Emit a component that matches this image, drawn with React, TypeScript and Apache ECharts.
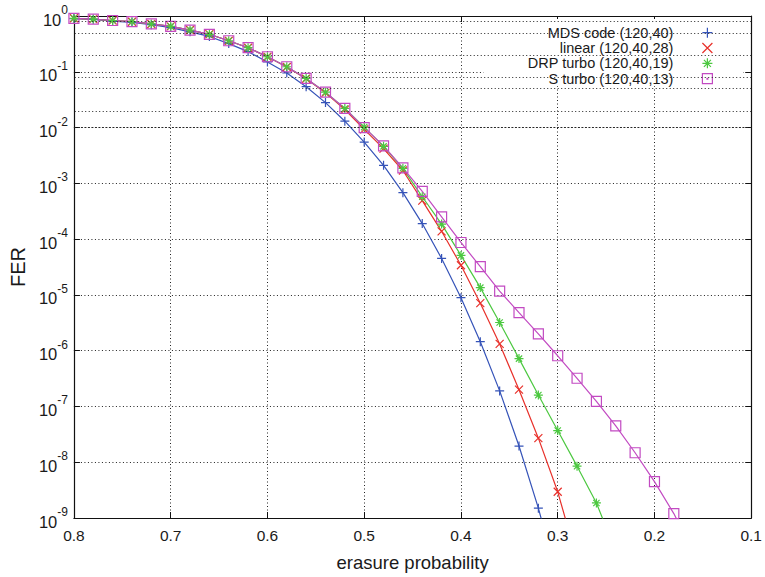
import React, { useEffect, useRef } from 'react';
import * as echarts from 'echarts';

const FONT = '"Liberation Sans", Arial, Helvetica, sans-serif';

const erasureProb = [
  0.80, 0.78, 0.76, 0.74, 0.72, 0.70, 0.68, 0.66, 0.64, 0.62,
  0.60, 0.58, 0.56, 0.54, 0.52, 0.50, 0.48, 0.46, 0.44, 0.42,
  0.40, 0.38, 0.36, 0.34, 0.32, 0.30, 0.28, 0.26, 0.24, 0.22,
  0.20, 0.18, 0.16,
];

const mdsFER = [
  0.90, 0.87, 0.81, 0.77, 0.70, 0.62, 0.52, 0.43, 0.32, 0.23,
  0.15, 0.095, 0.054, 0.028, 0.013, 5.5e-3, 2.1e-3, 6.8e-4, 1.9e-4, 4.5e-5,
  8.9e-6, 1.45e-6, 1.9e-7, 1.95e-8, 1.5e-9, 8e-11,
];

const linearFER = [
  0.91, 0.88, 0.83, 0.79, 0.72, 0.65, 0.56, 0.47, 0.36, 0.27,
  0.186, 0.122, 0.075, 0.042, 0.021, 9.3e-3, 4.2e-3, 1.7e-3, 4.9e-4, 1.38e-4,
  3.4e-5, 7.1e-6, 1.32e-6, 2.0e-7, 2.7e-8, 2.95e-9, 1.8e-10,
];

const drpTurboFER = [
  0.91, 0.88, 0.83, 0.79, 0.72, 0.65, 0.56, 0.47, 0.36, 0.27,
  0.186, 0.123, 0.076, 0.043, 0.022, 0.0102, 4.6e-3, 1.86e-3, 5.75e-4, 1.86e-4,
  5.1e-5, 1.35e-5, 3.2e-6, 7.2e-7, 1.6e-7, 3.7e-8, 8.5e-9, 1.86e-9, 2.5e-10,
];

const sTurboFER = [
  0.91, 0.88, 0.83, 0.79, 0.72, 0.65, 0.56, 0.47, 0.36, 0.27,
  0.186, 0.123, 0.076, 0.043, 0.022, 0.010, 4.7e-3, 1.9e-3, 7.2e-4, 2.5e-4,
  8.7e-5, 3.2e-5, 1.17e-5, 4.8e-6, 2.0e-6, 8.1e-7, 3.2e-7, 1.23e-7, 4.5e-8, 1.48e-8,
  4.5e-9, 1.2e-9, 2.5e-10,
];

const seriesNames = [
  'MDS code (120,40)',
  'linear (120,40,28)',
  'DRP turbo (120,40,19)',
  'S turbo (120,40,13)',
];
const seriesValues = [mdsFER, linearFER, drpTurboFER, sTurboFER];
const seriesColors = ['#3553b8', '#e8302a', '#4cc840', '#c24ac2'];

const xTicks = [0.8, 0.7, 0.6, 0.5, 0.4, 0.3, 0.2, 0.1];
const yDecadeExponents = [0, -1, -2, -3, -4, -5, -6, -7, -8, -9];
const minorGridFactors = [8, 5, 2];

const symbolPaths = [
  'path://M5,0L5,10M0,5L10,5',
  'path://M0,0L10,10M10,0L0,10',
  'path://M5,0L5,10M0,5L10,5M1.5,1.5L8.5,8.5M8.5,1.5L1.5,8.5',
  'path://M0,0L10,0L10,10L0,10Z',
];
const symbolSizes = [9, 8, 9, 10];
const legendIcons = [
  symbolPaths[0],
  symbolPaths[1],
  symbolPaths[2],
  'path://M0,0L10,0L10,10L0,10ZM4.6,4.6L5.4,4.6L5.4,5.4L4.6,5.4Z',
];

export default function App() {
  const ref = useRef<HTMLDivElement>(null);

  useEffect(() => {
    if (!ref.current) return;
    const chart = echarts.init(ref.current, null, { renderer: 'svg' });

    const minorLines: number[] = [];
    yDecadeExponents.slice(0, -1).forEach((e) => {
      minorGridFactors.forEach((f) => minorLines.push(f * Math.pow(10, e - 1)));
    });

    const gridDot = { color: '#222', type: [1, 2.5] as any, width: 1 };

    const xCommon = {
      type: 'value' as const,
      min: 0.1,
      max: 0.8,
      interval: 0.1,
      inverse: true,
      gridIndex: 0,
    };
    const yCommon = {
      type: 'log' as const,
      logBase: 10,
      min: Math.pow(10, yDecadeExponents[yDecadeExponents.length - 1]),
      max: Math.pow(10, yDecadeExponents[0]),
      splitNumber: 9,
      gridIndex: 0,
    };

    const option: any = {
      animation: false,
      backgroundColor: '#ffffff',
      textStyle: { fontFamily: FONT },
      grid: { left: 73, right: 13, top: 16, bottom: 59, containLabel: false },
      xAxis: [
        {
          ...xCommon,
          position: 'bottom',
          name: 'erasure probability',
          nameLocation: 'middle',
          nameGap: 35,
          nameTextStyle: { fontSize: 18.5, color: '#1a1a1a', fontFamily: FONT },
          axisLine: { show: true, onZero: false, lineStyle: { color: '#111', width: 1.2 } },
          axisTick: { show: true, inside: true, length: 6, lineStyle: { color: '#111', width: 1 } },
          axisLabel: {
            show: true,
            margin: 9,
            fontSize: 15.5,
            color: '#1a1a1a',
            fontFamily: FONT,
            formatter: (v: number) => {
              const t = xTicks.find((x) => Math.abs(x - v) < 1e-6);
              return t !== undefined ? t.toFixed(1) : '';
            },
          },
          splitLine: { show: true, lineStyle: gridDot },
        },
        {
          ...xCommon,
          position: 'top',
          axisLine: { show: true, onZero: false, lineStyle: { color: '#111', width: 1.2 } },
          axisTick: { show: true, inside: true, length: 6, lineStyle: { color: '#111', width: 1 } },
          axisLabel: { show: false },
          splitLine: { show: false },
        },
      ],
      yAxis: [
        {
          ...yCommon,
          position: 'left',
          name: 'FER',
          nameLocation: 'middle',
          nameGap: 35,
          nameRotate: 90,
          nameTextStyle: { fontSize: 20, color: '#1a1a1a', fontFamily: FONT },
          axisLine: { show: true, onZero: false, lineStyle: { color: '#111', width: 1.2 } },
          axisTick: { show: true, inside: true, length: 6, lineStyle: { color: '#111', width: 1 } },
          axisLabel: {
            show: true,
            margin: 6,
            formatter: (v: number) => `{b|10}{e|${Math.round(Math.log10(v))}}`,
            rich: {
              b: { fontSize: 16.5, lineHeight: 24, color: '#1a1a1a', fontFamily: FONT, verticalAlign: 'bottom', padding: [6, 0, 0, 0] },
              e: { fontSize: 12, lineHeight: 12, color: '#1a1a1a', fontFamily: FONT, verticalAlign: 'top' },
            },
          },
          splitLine: { show: true, lineStyle: gridDot },
          minorTick: { show: false },
        },
        {
          ...yCommon,
          position: 'right',
          axisLine: { show: true, onZero: false, lineStyle: { color: '#111', width: 1.2 } },
          axisTick: { show: true, inside: true, length: 6, lineStyle: { color: '#111', width: 1 } },
          axisLabel: { show: false },
          splitLine: { show: false },
        },
      ],
      legend: {
        orient: 'vertical',
        align: 'right',
        right: 22,
        top: 19,
        padding: [6, 30, 0, 44],
        backgroundColor: '#ffffff',
        itemGap: 0,
        itemWidth: 10,
        itemHeight: 10,
        selectedMode: false,
        z: 5,
        textStyle: {
          fontSize: 14.5,
          lineHeight: 15.33,
          color: '#1a1a1a',
          fontFamily: FONT,
          padding: [0, 24, 0, 0],
        },
        data: seriesNames.map((n, i) => ({
          name: n,
          icon: legendIcons[i],
          itemStyle: { color: 'rgba(0,0,0,0)', borderColor: seriesColors[i], borderWidth: 1.2 },
        })),
      },
      series: [
        {
          type: 'line',
          name: '__minorgrid',
          data: [],
          xAxisIndex: 0,
          yAxisIndex: 0,
          z: 1,
          silent: true,
          markLine: {
            silent: true,
            symbol: ['none', 'none'],
            label: { show: false },
            emphasis: { disabled: true },
            lineStyle: gridDot,
            data: minorLines.map((v) => ({ yAxis: v })),
          },
        },
        ...seriesNames.map((name, i) => ({
          type: 'line',
          name,
          xAxisIndex: 0,
          yAxisIndex: 0,
          data: seriesValues[i].map((v, k) => [erasureProb[k], v]),
          clip: true,
          z: 3,
          symbol: symbolPaths[i],
          symbolSize: symbolSizes[i],
          showAllSymbol: true,
          lineStyle: { color: seriesColors[i], width: 1.2 },
          itemStyle: { color: 'rgba(0,0,0,0)', borderColor: seriesColors[i], borderWidth: 1.2 },
          emphasis: { disabled: true },
        })),
      ],
    };

    chart.setOption(option);
    return () => chart.dispose();
  }, []);

  return (
    <div
      ref={ref}
      style={{ position: 'fixed', left: 0, top: 0, width: 765, height: 577, background: '#fff' }}
    />
  );
}
